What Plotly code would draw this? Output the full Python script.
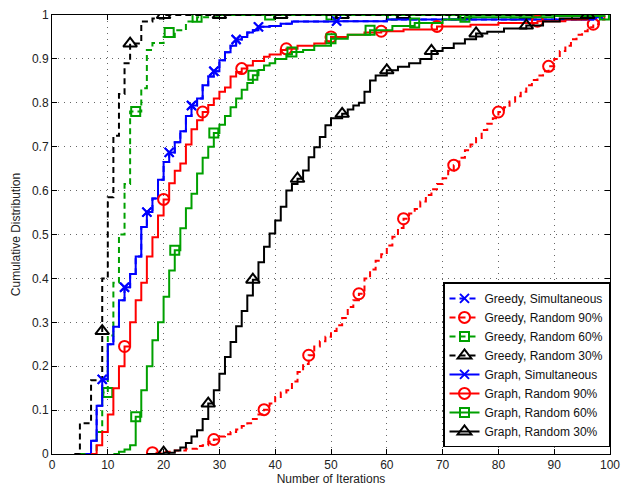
import plotly.graph_objects as go

# ---------------- data ----------------
# Greedy, Simultaneous / Graph, Simultaneous (curves coincide)
sim_x = [6, 7, 8, 9, 10, 11, 12, 13, 14, 15, 16, 17, 18, 19, 20, 21, 22, 23, 24, 25, 26, 27, 28, 29,
         30, 31, 32, 33, 34, 35, 36, 37, 39, 41, 43, 51, 60, 97, 98]
sim_y = [0, 0.03, 0.11, 0.17, 0.25, 0.29, 0.35, 0.38, 0.41, 0.45, 0.517, 0.551, 0.582, 0.625, 0.665,
         0.687, 0.71, 0.735, 0.77, 0.794, 0.81, 0.84, 0.86, 0.872, 0.897, 0.915, 0.93, 0.944, 0.95,
         0.96, 0.965, 0.973, 0.975, 0.98, 0.985, 0.986, 0.99, 0.995, 1.0]
sim_mk_x = [9, 13, 17, 21, 25, 29, 33, 37, 51, 98]
sim_mk_y = [0.17, 0.38, 0.551, 0.687, 0.794, 0.872, 0.944, 0.973, 0.986, 1.0]

# Greedy, Random 90%
g90_x = [17, 18, 20, 22, 24, 26, 27, 28, 29, 30, 31, 32, 33, 34, 35, 36, 37, 38, 39, 40, 41, 42, 43,
         44, 45, 46, 47, 48, 49, 50, 51, 52, 53, 54, 55, 56, 57, 58, 59, 60, 61, 62, 63, 64, 65, 66,
         67, 68, 69, 70, 71, 72, 73, 74, 75, 76, 77, 78, 79, 80, 81, 82, 83, 84, 85, 86, 87, 88, 89,
         90, 91, 92, 93, 94, 95, 96, 97, 98, 99]
g90_y = [0, 0.003, 0.005, 0.008, 0.012, 0.018, 0.02, 0.028, 0.033, 0.04, 0.045, 0.05, 0.056, 0.064,
         0.07, 0.08, 0.09, 0.101, 0.115, 0.13, 0.14, 0.145, 0.165, 0.187, 0.205, 0.225, 0.245, 0.257,
         0.267, 0.28, 0.293, 0.31, 0.335, 0.35, 0.365, 0.4, 0.42, 0.44, 0.455, 0.475, 0.495, 0.515,
         0.536, 0.548, 0.558, 0.575, 0.59, 0.603, 0.615, 0.628, 0.645, 0.658, 0.675, 0.692, 0.705,
         0.72, 0.738, 0.752, 0.765, 0.779, 0.79, 0.803, 0.815, 0.825, 0.84, 0.852, 0.862, 0.872,
         0.883, 0.9, 0.918, 0.93, 0.945, 0.955, 0.963, 0.972, 0.979, 0.99, 1.0]
g90_mk_x = [18, 29, 38, 46, 55, 63, 72, 80, 89, 97]
g90_mk_y = [0.003, 0.033, 0.101, 0.225, 0.365, 0.536, 0.658, 0.779, 0.883, 0.979]

# Greedy, Random 60%
g60_x = [5, 8, 9, 10, 11, 12, 13, 14, 16, 17, 18, 20, 22, 24, 26, 30, 99]
g60_y = [0, 0.05, 0.14, 0.27, 0.39, 0.5, 0.615, 0.78, 0.833, 0.92, 0.936, 0.95, 0.965, 0.985, 0.995, 1.0, 1.0]
g60_mk_x = [10, 15, 21, 26, 39, 50, 61, 72, 83, 94]
g60_mk_y = [0.14, 0.78, 0.96, 0.995, 1, 1, 1, 1, 1, 1]

# Greedy, Random 30%
g30_x = [4, 5, 7, 9, 10, 11, 12, 13, 14, 16, 18, 20, 96]
g30_y = [0, 0.07, 0.168, 0.40, 0.585, 0.725, 0.82, 0.89, 0.935, 0.985, 0.992, 1.0, 1.0]
g30_mk_x = [9, 14, 20, 30, 41, 52, 63, 74, 85, 96]
g30_mk_y = [0.28, 0.935, 1, 1, 1, 1, 1, 1, 1, 1]

# Graph, Random 90%
r90_x = [7, 8, 9, 10, 11, 12, 13, 14, 15, 16, 17, 18, 19, 20, 21, 22, 23, 24, 25, 26, 27, 28, 29, 30,
         31, 32, 33, 34, 35, 36, 38, 39, 41, 42, 44, 47, 49, 50, 53, 56, 59, 63, 69, 75, 80, 87, 92, 96]
r90_y = [0, 0.02, 0.05, 0.09, 0.15, 0.2, 0.245, 0.3, 0.35, 0.39, 0.45, 0.494, 0.543, 0.58, 0.617,
         0.645, 0.662, 0.705, 0.74, 0.76, 0.779, 0.795, 0.81, 0.825, 0.835, 0.86, 0.87, 0.878, 0.885,
         0.895, 0.905, 0.91, 0.92, 0.923, 0.93, 0.935, 0.94, 0.95, 0.955, 0.96, 0.963, 0.967, 0.974,
         0.978, 0.982, 0.986, 0.99, 1.0]
r90_mk_x = [13, 20, 27, 34, 42, 50, 59, 69, 87]
r90_mk_y = [0.245, 0.58, 0.779, 0.878, 0.923, 0.95, 0.963, 0.974, 0.986]

# Graph, Random 60%
r60_x = [11, 12, 13, 14, 15, 16, 17, 18, 19, 20, 21, 22, 23, 24, 25, 26, 27, 28, 29, 30, 31, 32, 33,
         34, 35, 36, 37, 38, 39, 40, 42, 43, 45, 47, 50, 53, 57, 61, 65, 70, 74, 90, 99]
r60_y = [0, 0.005, 0.01, 0.02, 0.085, 0.145, 0.2, 0.259, 0.3, 0.358, 0.418, 0.464, 0.514, 0.56,
         0.593, 0.639, 0.675, 0.7, 0.731, 0.75, 0.77, 0.79, 0.81, 0.83, 0.845, 0.863, 0.875, 0.885,
         0.89, 0.9, 0.91, 0.916, 0.92, 0.93, 0.946, 0.955, 0.965, 0.975, 0.982, 0.99, 0.995, 0.998, 1.0]
r60_mk_x = [15, 22, 29, 36, 43, 50, 57, 65, 74, 99]
r60_mk_y = [0.085, 0.464, 0.731, 0.863, 0.916, 0.946, 0.965, 0.982, 0.995, 1.0]

# Graph, Random 30%
r30_x = [17, 20, 22, 23, 24, 25, 26, 27, 28, 29, 30, 31, 32, 33, 34, 35, 36, 37, 38, 39, 40, 41, 42,
         43, 44, 45, 46, 47, 48, 49, 50, 52, 53, 54, 55, 56, 57, 58, 60, 62, 64, 66, 68, 70, 72, 74,
         76, 78, 81, 85, 88, 91, 96]
r30_y = [0, 0.003, 0.008, 0.015, 0.025, 0.04, 0.054, 0.08, 0.115, 0.145, 0.183, 0.221, 0.255, 0.291,
         0.326, 0.361, 0.397, 0.437, 0.472, 0.502, 0.532, 0.563, 0.6, 0.615, 0.627, 0.646, 0.676,
         0.699, 0.722, 0.749, 0.765, 0.775, 0.785, 0.794, 0.8, 0.825, 0.851, 0.862, 0.874, 0.882,
         0.89, 0.9, 0.918, 0.925, 0.935, 0.945, 0.958, 0.962, 0.969, 0.976, 0.985, 0.992, 1.0]
r30_mk_x = [20, 28, 36, 44, 52, 60, 68, 76, 85, 96]
r30_mk_y = [0.003, 0.115, 0.397, 0.627, 0.775, 0.874, 0.918, 0.958, 0.976, 1.0]

x_ticks = [0, 10, 20, 30, 40, 50, 60, 70, 80, 90, 100]
y_ticks = [0, 0.1, 0.2, 0.3, 0.4, 0.5, 0.6, 0.7, 0.8, 0.9, 1]

# ---------------- styling ----------------
BLUE, RED, GREEN, BLACK = "#0000ff", "#ff0000", "#00a000", "#000000"
DASH = "6px,4px"
TXT = "#222222"

series = [
    ("Greedy, Simultaneous", sim_x, sim_y, sim_mk_x, sim_mk_y, BLUE, DASH, "x-thin-open", 9),
    ("Greedy, Random 90%", g90_x, g90_y, g90_mk_x, g90_mk_y, RED, DASH, "circle-open", 11),
    ("Greedy, Random 60%", g60_x, g60_y, g60_mk_x, g60_mk_y, GREEN, DASH, "square-open", 9),
    ("Greedy, Random 30%", g30_x, g30_y, g30_mk_x, g30_mk_y, BLACK, DASH, "triangle-up-open", 12),
    ("Graph, Simultaneous", sim_x, sim_y, sim_mk_x, sim_mk_y, BLUE, "solid", "x-thin-open", 9),
    ("Graph, Random 90%", r90_x, r90_y, r90_mk_x, r90_mk_y, RED, "solid", "circle-open", 11),
    ("Graph, Random 60%", r60_x, r60_y, r60_mk_x, r60_mk_y, GREEN, "solid", "square-open", 9),
    ("Graph, Random 30%", r30_x, r30_y, r30_mk_x, r30_mk_y, BLACK, "solid", "triangle-up-open", 12),
]

fig = go.Figure()
for i, (name, xs, ys, mx, my, color, dash, sym, size) in enumerate(series):
    grp = f"g{i}"
    fig.add_trace(go.Scatter(x=xs, y=ys, mode="lines", line=dict(color=color, width=2, dash=dash, shape="hv"),
                             legendgroup=grp, showlegend=False, hoverinfo="skip"))
    fig.add_trace(go.Scatter(x=mx, y=my, mode="markers",
                             marker=dict(symbol=sym, size=size, color=color, line=dict(color=color, width=2)),
                             legendgroup=grp, showlegend=False, hoverinfo="skip"))
    fig.add_trace(go.Scatter(x=[None], y=[None], mode="lines+markers", name=name, legendgroup=grp,
                             line=dict(color=color, width=2, dash=dash),
                             marker=dict(symbol=sym, size=size, color=color, line=dict(color=color, width=2))))

axis_common = dict(showline=True, linecolor="black", linewidth=1, mirror="ticks", ticks="inside",
                   ticklen=5, tickcolor="black", showgrid=True, gridcolor="#666666", griddash="1px,5px",
                   gridwidth=1, zeroline=False, automargin=False, tickfont=dict(size=12, color=TXT))

fig.update_xaxes(range=[0, 100], tickvals=x_ticks,
                 title=dict(text="Number of Iterations", font=dict(size=12, color=TXT), standoff=0),
                 **axis_common)
fig.update_yaxes(range=[0, 1], tickvals=y_ticks,
                 title=dict(text="Cumulative Distribution", font=dict(size=12, color=TXT), standoff=8),
                 **axis_common)

# page body has an 8px margin, so the figure is sized/offset to land the axes where the reference has them
fig.update_layout(
    width=624, height=480,
    margin=dict(l=44, r=22, t=7, b=34),
    paper_bgcolor="white", plot_bgcolor="white",
    font=dict(family="Liberation Sans, Arial, sans-serif", size=12, color=TXT),
    legend=dict(x=1, y=0.015, xanchor="right", yanchor="bottom", bgcolor="white",
                bordercolor="black", borderwidth=1.5, font=dict(size=12, color="#111111"),
                tracegroupgap=0, itemwidth=30),
    showlegend=True,
)

fig.write_html("out.html")
